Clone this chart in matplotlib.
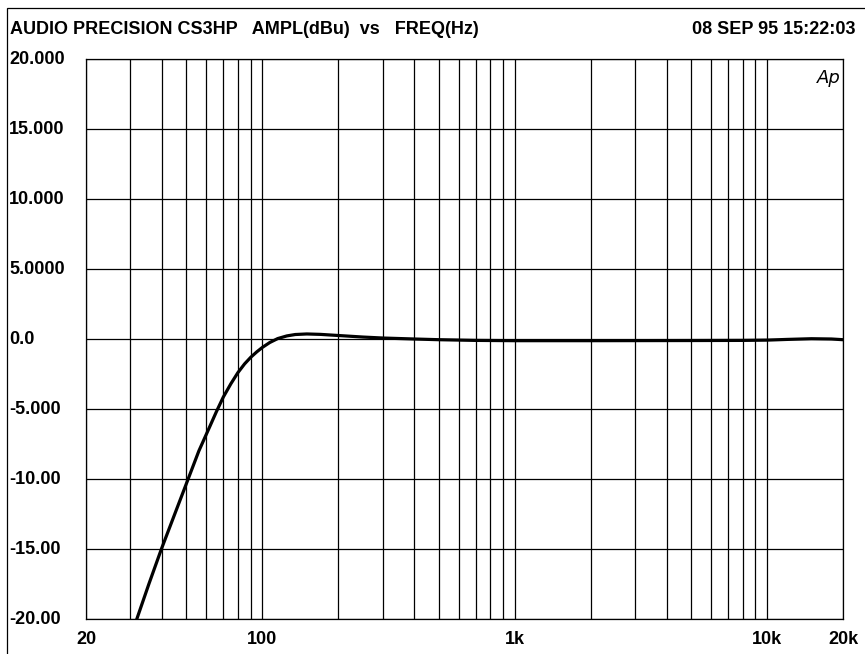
import matplotlib
matplotlib.use("Agg")
import matplotlib.pyplot as plt
from matplotlib.patches import Rectangle

# response (Hz, dBu)
freq = [31.8, 35.5, 39.8, 45.4, 50.8, 56.0, 61.9, 65.7, 70, 75, 80, 85, 90, 95,
        100, 107, 115, 125, 135, 150, 170, 200, 250, 300, 400, 500, 700,
        1000, 2000, 5000, 8000, 10000, 12000, 15000, 18000, 20000]
ampl = [-20.0, -17.5, -15.0, -12.3, -10.0, -8.0, -6.25, -5.2, -4.15, -3.2, -2.4, -1.78, -1.3, -0.92,
        -0.6, -0.25, 0.03, 0.22, 0.32, 0.36, 0.33, 0.25, 0.14, 0.07, 0.0, -0.05, -0.1,
        -0.12, -0.12, -0.11, -0.1, -0.08, -0.03, 0.02, 0.0, -0.05]

xgrid = [20, 30, 40, 50, 60, 70, 80, 90, 100, 200, 300, 400, 500, 600, 700, 800, 900,
         1000, 2000, 3000, 4000, 5000, 6000, 7000, 8000, 9000, 10000, 20000]
xlabels = {20: "20", 100: "100", 1000: "1k", 10000: "10k", 20000: "20k"}
yticks = [20, 15, 10, 5, 0, -5, -10, -15, -20]
ylabels = ["20.000", "15.000", "10.000", "5.0000", "0.0", "-5.000", "-10.00", "-15.00", "-20.00"]

font = dict(family=["Liberation Sans Narrow", "Liberation Sans"], fontweight="bold", fontsize=13)

W, H = 865, 654
fig = plt.figure(figsize=(W / 100, H / 100), dpi=100)
ax = fig.add_axes([86 / W, 1 - 619 / H, (843 - 86) / W, (619 - 59) / H])

ax.set_xscale("log")
ax.set_xlim(20, 20000)
ax.set_ylim(-20, 20)
for f in xgrid:
    ax.axvline(f, color="black", lw=0.9, zorder=1)
for v in yticks:
    ax.axhline(v, color="black", lw=0.9, zorder=1)
ax.plot(freq, ampl, color="black", lw=2.3, zorder=3, solid_joinstyle="round")

ax.set_xticks([])
ax.set_yticks([])
ax.minorticks_off()
for s in ax.spines.values():
    s.set_linewidth(0.9)

for f, lab in xlabels.items():
    ax.text(f, -21.5, lab, ha="center", va="center", clip_on=False, **font)
for v, lab in zip(yticks, ylabels):
    fig.text(9 / W, (1 - (339 - v * 14) / H), lab, ha="left", va="center", **font)

fig.text(10 / W, 1 - 30 / H, "AUDIO PRECISION CS3HP   AMPL(dBu)  vs   FREQ(Hz)", ha="left", va="center", **font)
fig.text(856 / W, 1 - 30 / H, "08 SEP 95 15:22:03", ha="right", va="center", **font)
fig.text(829 / W, 1 - 78 / H, "Ap", ha="center", va="center", fontsize=13,
         fontstyle="italic", fontweight="light", family="DejaVu Sans")

fig.patches.append(Rectangle((7 / W, -0.1), 1.2, 1 - 8 / H + 0.1, transform=fig.transFigure,
                             fill=False, ec="black", lw=0.9))

fig.savefig("out.png", dpi=100)
